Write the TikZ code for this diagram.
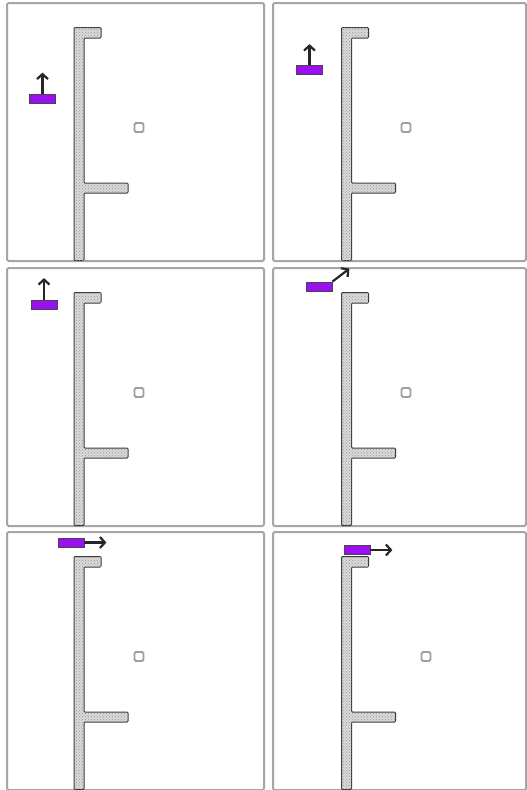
\documentclass[tikz,border=0pt]{standalone}
\usetikzlibrary{arrows.meta,patterns}
\definecolor{blockviolet}{HTML}{9B10F2}
\tikzset{
  frame/.style={draw=gray!70, line width=2pt, rounded corners=1.5pt},
  wall/.style={fill=gray!30, draw=gray!45!black, line width=1pt, rounded corners=1pt,
    postaction={pattern=crosshatch dots, pattern color=gray!80}},
  target/.style={draw=gray!75, fill=white, line width=1.8pt, rounded corners=1.5pt, minimum size=9pt, inner sep=0pt},
  block/.style={fill=blockviolet, draw=gray!55!black, line width=0.8pt, minimum width=26pt, minimum height=9pt, inner sep=0pt},
  move/.style={->, >={Straight Barb[length=5pt,width=11pt]}, line width=2.2pt, black!85}
}
\begin{document}
\begin{tikzpicture}[x=1pt, y=-1pt]
\useasboundingbox (0,0) rectangle (527,790);
% i / panel origin / width / wall x / block centre / arrow anchor / arrow offset / target x
\foreach \i/\ox/\oy/\w/\wx/\bx/\by/\anc/\dx/\dy/\sx in {
    1/7/3/257/67/35.5/95.5/north/0/-21/132,
    2/273/3/253/68.5/36.5/67/north/0/-21/133,
    3/7/268/257/67/37/37/north/0/-22/132,
    4/273/268/253/68.5/46/18.5/north east/17/-13/133,
    5/7/532/257/67/64/10.5/east/22/0/132,
    6/273/532/253/68.5/84/18/east/22/0/153}{
  \begin{scope}[shift={(\ox,\oy)}]
    \draw[frame] (0,0) rectangle (\w,258);
    \draw[wall] (\wx,24.5) -- (\wx+27,24.5) -- (\wx+27,35) -- (\wx+10,35) -- (\wx+10,180)
      -- (\wx+54,180) -- (\wx+54,190) -- (\wx+10,190) -- (\wx+10,257.5) -- (\wx,257.5) -- cycle;
    \node[target] (s\i) at (\sx,124.5) {};
    \node[block] (b\i) at (\bx,\by) {};
    \path (b\i.\anc) ++(\dx,\dy) coordinate (t\i);
    \draw[move] (b\i.\anc) -- (t\i);
  \end{scope}
}
\end{tikzpicture}
\end{document}
